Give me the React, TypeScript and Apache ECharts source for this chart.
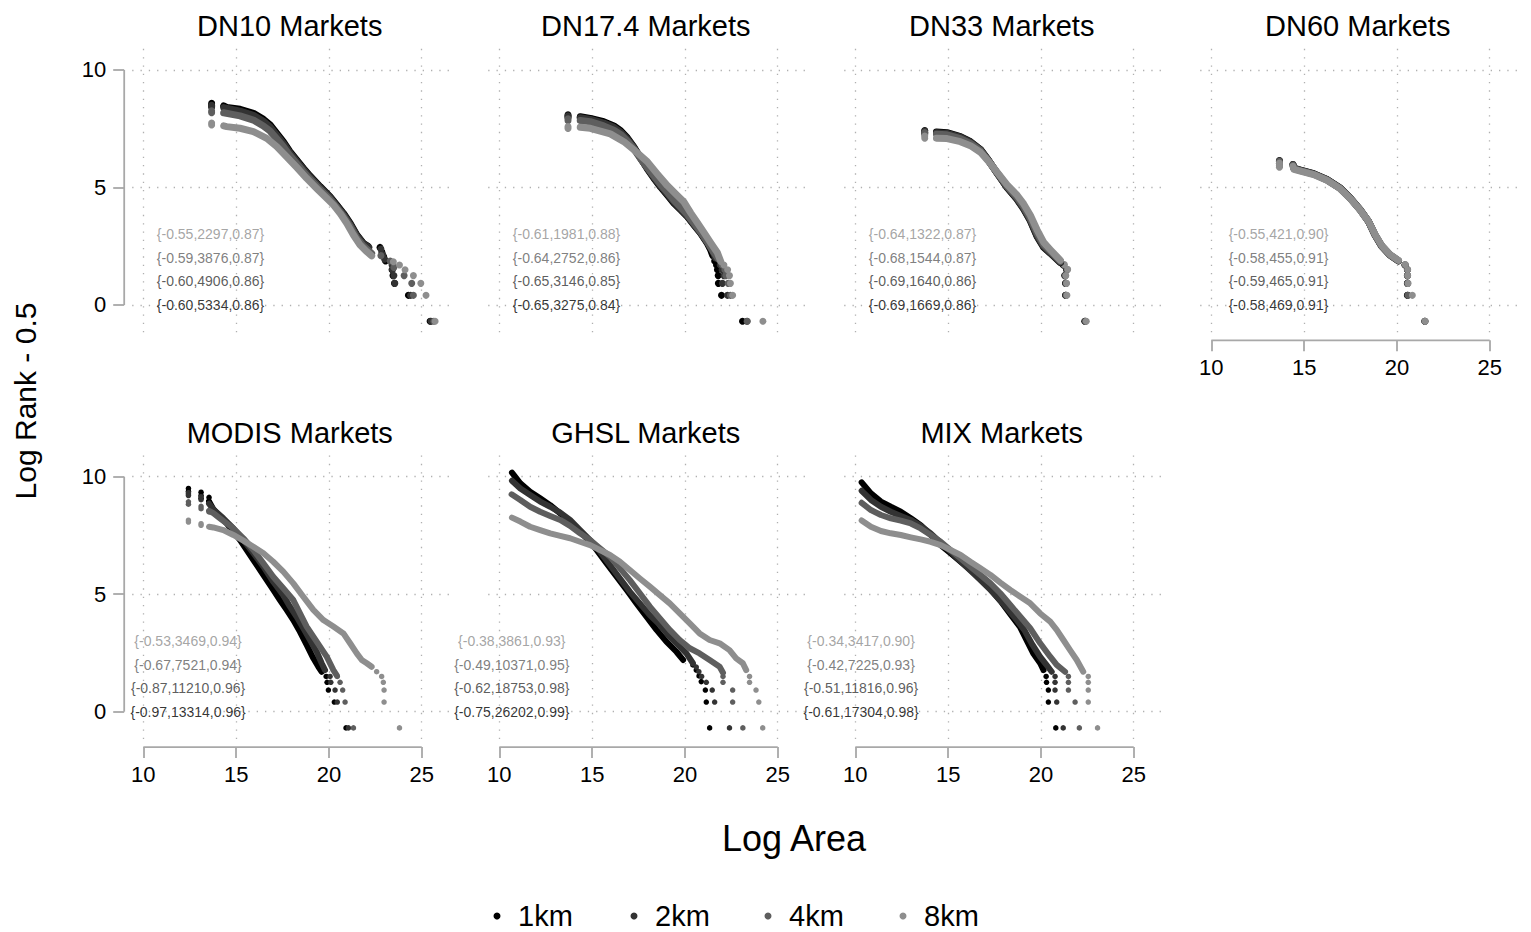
import React, { useEffect, useRef } from 'react';
import * as echarts from 'echarts';

const FONT = "'Liberation Sans', Arial, Helvetica, sans-serif";
const RESOLUTIONS = ['1km', '2km', '4km', '8km'];
const SERIES_COLORS = ['#000000', '#333333', '#5e5e5e', '#8e8e8e'];
const X_TICKS = [10, 15, 20, 25];
const Y_TICKS = [0, 5, 10];
const X_MIN = 9.4;
const X_MAX = 26.7;
const Y_MIN = -1.25;
const Y_MAX = 10.9;
const PANEL_TITLES = ['DN10 Markets', 'DN17.4 Markets', 'DN33 Markets', 'DN60 Markets', 'MODIS Markets', 'GHSL Markets', 'MIX Markets'];

// annotation text per panel: order 1km, 2km, 4km, 8km
const DN10_STATS = ['{-0.60,5334,0.86}', '{-0.60,4906,0.86}', '{-0.59,3876,0.87}', '{-0.55,2297,0.87}'];
const DN17_STATS = ['{-0.65,3275,0.84}', '{-0.65,3146,0.85}', '{-0.64,2752,0.86}', '{-0.61,1981,0.88}'];
const DN33_STATS = ['{-0.69,1669,0.86}', '{-0.69,1640,0.86}', '{-0.68,1544,0.87}', '{-0.64,1322,0.87}'];
const DN60_STATS = ['{-0.58,469,0.91}', '{-0.59,465,0.91}', '{-0.58,455,0.91}', '{-0.55,421,0.90}'];
const MODIS_STATS = ['{-0.97,13314,0.96}', '{-0.87,11210,0.96}', '{-0.67,7521,0.94}', '{-0.53,3469,0.94}'];
const GHSL_STATS = ['{-0.75,26202,0.99}', '{-0.62,18753,0.98}', '{-0.49,10371,0.95}', '{-0.38,3861,0.93}'];
const MIX_STATS = ['{-0.61,17304,0.98}', '{-0.51,11816,0.96}', '{-0.42,7225,0.93}', '{-0.34,3417,0.90}'];
const ANNOT_X = [13.62, 13.62, 13.62, 13.62, 12.41, 10.67, 10.31];
const ANNOT_Y = [0, 1, 2, 3];

// ---------- DN10 ----------
const DN10_1KM_LINE = [[14.33,8.47],[14.49,8.41],[15.21,8.33],[15.93,8.16],[16.47,7.90],[16.83,7.66],[17.19,7.30],[17.54,6.95],[17.90,6.52],[18.26,6.17],[18.62,5.82],[18.98,5.49],[19.52,5.04],[20.06,4.61],[20.42,4.26],[20.78,3.90],[21.14,3.48],[21.50,2.98],[21.86,2.62],[22.10,2.50]];
const DN10_1KM_DOTS = [[13.68,8.58],[13.68,8.50],[13.68,8.44],[22.75,2.45],[22.85,2.25],[22.95,2.05],[23.05,1.87],[23.40,1.50],[23.45,1.25],[23.53,0.92],[24.28,0.41],[25.45,-0.69]];
const DN10_2KM_LINE = [[14.33,8.40],[15.21,8.25],[15.93,8.07],[16.47,7.82],[16.83,7.58],[17.19,7.23],[17.54,6.88],[17.90,6.47],[18.26,6.12],[18.62,5.78],[18.98,5.45],[19.52,5.00],[20.06,4.58],[20.42,4.22],[20.78,3.86],[21.14,3.44],[21.50,2.95],[21.86,2.60],[22.15,2.45]];
const DN10_2KM_DOTS = [[13.68,8.50],[13.68,8.42],[22.80,2.38],[22.90,2.15],[23.00,1.95],[23.40,1.70],[23.42,1.50],[23.50,1.25],[23.55,0.92],[24.40,0.41],[25.50,-0.69]];
const DN10_4KM_LINE = [[14.33,8.18],[15.21,8.05],[15.93,7.87],[16.47,7.62],[16.83,7.40],[17.19,7.07],[17.54,6.74],[17.90,6.36],[18.26,6.02],[18.62,5.68],[18.98,5.36],[19.52,4.92],[20.06,4.50],[20.42,4.16],[20.78,3.78],[21.14,3.35],[21.50,2.85],[21.86,2.50],[22.30,2.20]];
const DN10_4KM_DOTS = [[13.68,8.26],[13.68,8.18],[22.80,2.10],[23.30,1.87],[23.50,1.60],[24.05,1.25],[24.46,0.92],[24.55,0.41],[25.65,-0.69]];
const DN10_8KM_LINE = [[14.33,7.62],[14.49,7.59],[15.21,7.52],[15.93,7.38],[16.65,7.09],[17.19,6.74],[17.72,6.31],[18.26,5.86],[18.80,5.39],[19.34,4.96],[19.88,4.54],[20.24,4.26],[20.60,3.90],[20.96,3.48],[21.32,2.98],[21.68,2.55],[22.04,2.27],[22.30,2.09]];
const DN10_8KM_DOTS = [[13.68,7.74],[13.68,7.66],[23.47,1.84],[23.80,1.70],[24.10,1.50],[24.55,1.25],[24.95,0.92],[25.23,0.41],[25.72,-0.69]];

// ---------- DN17.4 ----------
const DN17_1KM_LINE = [[14.36,8.01],[14.90,7.94],[15.62,7.80],[16.17,7.62],[16.53,7.42],[16.89,7.12],[17.25,6.72],[17.61,6.25],[17.97,5.80],[18.33,5.39],[18.69,5.02],[19.05,4.68],[19.41,4.33],[19.77,4.05],[20.13,3.76],[20.49,3.40],[20.85,3.05],[21.21,2.62],[21.39,2.34],[21.50,2.10]];
const DN17_1KM_DOTS = [[13.70,8.09],[13.70,8.01],[21.60,1.87],[21.70,1.70],[21.75,1.50],[21.79,1.25],[21.80,0.92],[21.97,0.41],[23.10,-0.69]];
const DN17_2KM_LINE = [[14.36,7.97],[14.90,7.90],[15.62,7.74],[16.17,7.56],[16.53,7.36],[16.89,7.07],[17.25,6.70],[17.61,6.26],[17.97,5.83],[18.33,5.42],[18.69,5.06],[19.05,4.72],[19.41,4.38],[19.77,4.08],[20.13,3.78],[20.49,3.42],[20.85,3.07],[21.21,2.66],[21.50,2.30],[21.65,2.00]];
const DN17_2KM_DOTS = [[13.70,8.05],[13.70,7.97],[21.90,1.70],[22.00,1.50],[22.10,1.25],[22.02,0.92],[22.29,0.41],[23.34,-0.69]];
const DN17_4KM_LINE = [[14.36,7.85],[14.90,7.80],[15.62,7.62],[16.17,7.44],[16.53,7.26],[16.89,6.99],[17.25,6.64],[17.61,6.22],[17.97,5.85],[18.33,5.48],[18.69,5.12],[19.05,4.80],[19.41,4.45],[19.77,4.15],[20.13,3.84],[20.49,3.47],[20.85,3.10],[21.21,2.68],[21.50,2.30],[21.80,1.95]];
const DN17_4KM_DOTS = [[13.70,7.92],[13.70,7.84],[22.00,1.70],[22.15,1.50],[22.20,1.25],[22.33,0.92],[22.45,0.41],[23.36,-0.69]];
const DN17_8KM_LINE = [[14.36,7.56],[14.90,7.52],[15.98,7.28],[16.71,6.95],[17.25,6.60],[17.97,6.10],[18.51,5.58],[19.05,5.08],[19.59,4.66],[19.95,4.38],[20.31,3.92],[20.67,3.50],[21.03,3.08],[21.39,2.64],[21.75,2.22],[21.93,1.85]];
const DN17_8KM_DOTS = [[13.70,7.59],[13.70,7.51],[22.10,1.70],[22.30,1.50],[22.40,1.25],[22.45,0.92],[22.57,0.41],[24.20,-0.69]];

// ---------- DN33 ----------
const DN33_1KM_LINE = [[14.37,7.36],[14.94,7.33],[15.66,7.17],[16.20,6.95],[16.74,6.62],[17.19,6.14],[17.63,5.62],[18.17,5.00],[18.71,4.50],[19.07,4.08],[19.43,3.58],[19.79,2.92],[20.15,2.45],[20.51,2.20],[21.05,1.80]];
const DN33_1KM_DOTS = [[13.74,7.42],[13.74,7.33],[21.20,1.70],[21.38,1.50],[21.28,1.25],[21.32,0.92],[21.32,0.41],[22.36,-0.69]];
const DN33_2KM_LINE = [[14.37,7.33],[14.94,7.30],[15.66,7.14],[16.20,6.93],[16.74,6.60],[17.19,6.13],[17.63,5.62],[18.17,5.02],[18.71,4.52],[19.07,4.10],[19.43,3.60],[19.79,2.95],[20.15,2.48],[20.51,2.22],[21.05,1.82]];
const DN33_2KM_DOTS = [[13.74,7.40],[13.74,7.31],[21.22,1.70],[21.40,1.50],[21.30,1.25],[21.34,0.92],[21.34,0.41],[22.38,-0.69]];
const DN33_4KM_LINE = [[14.37,7.27],[14.94,7.24],[15.66,7.08],[16.20,6.88],[16.74,6.57],[17.19,6.12],[17.63,5.64],[18.17,5.06],[18.71,4.58],[19.07,4.18],[19.43,3.68],[19.79,3.05],[20.15,2.55],[20.51,2.28],[21.05,1.86]];
const DN33_4KM_DOTS = [[13.74,7.34],[13.74,7.25],[21.24,1.70],[21.42,1.50],[21.32,1.25],[21.36,0.92],[21.36,0.41],[22.40,-0.69]];
const DN33_8KM_LINE = [[14.37,7.10],[14.94,7.08],[15.66,6.95],[16.20,6.78],[16.74,6.50],[17.19,6.10],[17.63,5.66],[18.17,5.12],[18.71,4.68],[19.07,4.30],[19.43,3.82],[19.79,3.20],[20.15,2.66],[20.51,2.35],[21.05,1.90]];
const DN33_8KM_DOTS = [[13.74,7.19],[13.74,7.10],[21.26,1.72],[21.44,1.52],[21.34,1.25],[21.38,0.92],[21.40,0.41],[22.44,-0.69]];

// ---------- DN60 ----------
const DN60_1KM_LINE = [[14.40,5.98],[14.45,5.82],[14.80,5.74],[15.51,5.59],[16.23,5.34],[16.94,4.98],[17.48,4.55],[18.02,4.05],[18.47,3.55],[18.82,2.98],[19.18,2.50],[19.63,2.12],[20.08,1.88]];
const DN60_1KM_DOTS = [[13.67,6.15],[13.67,6.04],[13.67,5.94],[20.43,1.70],[20.56,1.50],[20.56,1.25],[20.56,0.92],[20.56,0.41],[21.50,-0.69]];
const DN60_2KM_LINE = [[14.40,5.97],[14.45,5.81],[14.80,5.73],[15.51,5.58],[16.23,5.33],[16.94,4.97],[17.48,4.55],[18.02,4.05],[18.47,3.55],[18.82,2.98],[19.18,2.50],[19.63,2.12],[20.08,1.88]];
const DN60_2KM_DOTS = [[13.67,6.14],[13.67,6.03],[13.67,5.93],[20.44,1.70],[20.57,1.50],[20.57,1.25],[20.57,0.92],[20.58,0.41],[21.51,-0.69]];
const DN60_4KM_LINE = [[14.40,5.95],[14.45,5.80],[14.80,5.72],[15.51,5.57],[16.23,5.32],[16.94,4.96],[17.48,4.54],[18.02,4.04],[18.47,3.55],[18.82,2.98],[19.18,2.51],[19.63,2.13],[20.08,1.89]];
const DN60_4KM_DOTS = [[13.67,6.12],[13.67,6.01],[13.67,5.91],[20.44,1.71],[20.57,1.50],[20.57,1.25],[20.58,0.92],[20.60,0.41],[21.51,-0.69]];
const DN60_8KM_LINE = [[14.40,5.90],[14.45,5.77],[14.80,5.70],[15.51,5.55],[16.23,5.31],[16.94,4.95],[17.48,4.53],[18.02,4.04],[18.47,3.56],[18.82,3.00],[19.18,2.53],[19.63,2.14],[20.08,1.90]];
const DN60_8KM_DOTS = [[13.67,6.04],[13.67,5.94],[13.67,5.86],[20.45,1.72],[20.58,1.50],[20.58,1.25],[20.60,0.92],[20.83,0.41],[21.52,-0.69]];

// ---------- MODIS ----------
const MODIS_1KM_LINE = [[13.54,8.95],[13.77,8.62],[14.13,8.30],[14.49,8.01],[14.85,7.66],[15.21,7.30],[15.57,6.88],[15.93,6.45],[16.29,6.03],[16.65,5.60],[17.00,5.18],[17.36,4.75],[17.72,4.33],[18.08,3.90],[18.44,3.40],[18.80,2.84],[19.16,2.27],[19.43,1.91],[19.61,1.70]];
const MODIS_1KM_DOTS = [[12.43,9.50],[12.43,9.38],[12.43,9.26],[13.11,9.34],[13.11,9.20],[13.11,9.08],[13.54,9.12],[19.85,1.50],[19.90,1.25],[19.97,0.92],[20.29,0.41],[20.92,-0.69]];
const MODIS_2KM_LINE = [[13.54,8.85],[13.77,8.61],[14.31,8.23],[14.85,7.80],[15.39,7.30],[15.93,6.74],[16.47,6.17],[17.00,5.53],[17.54,4.96],[17.90,4.47],[18.26,4.04],[18.62,3.55],[18.98,3.05],[19.34,2.55],[19.61,2.06],[19.79,1.77]];
const MODIS_2KM_DOTS = [[12.43,9.32],[12.43,9.20],[13.11,9.15],[13.11,9.02],[13.54,8.95],[20.06,1.50],[20.10,1.25],[20.33,0.92],[20.45,0.41],[21.05,-0.69]];
const MODIS_4KM_LINE = [[13.54,8.55],[13.77,8.45],[14.13,8.23],[14.85,7.80],[15.39,7.38],[15.93,6.88],[16.47,6.31],[17.00,5.74],[17.54,5.25],[18.08,4.75],[18.44,4.18],[18.80,3.62],[19.16,3.19],[19.52,2.77],[19.88,2.34],[20.24,1.77],[20.42,1.55]];
const MODIS_4KM_DOTS = [[12.43,8.93],[12.43,8.83],[13.11,8.74],[13.11,8.64],[13.54,8.50],[20.45,1.50],[20.60,1.25],[20.74,0.92],[20.87,0.41],[21.32,-0.69]];
const MODIS_8KM_LINE = [[13.54,7.87],[13.77,7.84],[14.31,7.73],[14.85,7.52],[15.39,7.28],[15.93,7.02],[16.47,6.74],[17.00,6.38],[17.54,5.96],[18.08,5.46],[18.62,4.89],[19.16,4.33],[19.70,3.90],[20.24,3.62],[20.78,3.33],[21.14,2.91],[21.50,2.48],[21.77,2.20],[22.04,2.06],[22.30,1.91]];
const MODIS_8KM_DOTS = [[12.43,8.15],[12.43,8.07],[13.11,8.00],[13.11,7.93],[22.57,1.70],[22.84,1.50],[22.93,1.25],[22.97,0.92],[22.97,0.41],[23.80,-0.69]];

// ---------- GHSL ----------
const GHSL_1KM_LINE = [[10.68,10.17],[11.13,9.72],[11.66,9.36],[12.20,9.08],[12.74,8.79],[13.28,8.44],[13.81,8.09],[14.35,7.66],[14.89,7.23],[15.24,6.88],[15.78,6.31],[16.32,5.74],[16.86,5.18],[17.39,4.61],[17.93,4.04],[18.47,3.48],[19.00,2.98],[19.54,2.55],[19.90,2.20]];
const GHSL_1KM_DOTS = [[20.43,1.99],[20.61,1.77],[20.76,1.52],[20.88,1.28],[21.10,0.92],[21.15,0.41],[21.33,-0.69]];
const GHSL_2KM_LINE = [[10.68,9.83],[11.13,9.50],[11.66,9.22],[12.20,8.94],[12.74,8.72],[13.28,8.47],[13.81,8.16],[14.35,7.73],[14.89,7.30],[15.42,6.81],[15.96,6.24],[16.50,5.67],[17.03,5.11],[17.57,4.61],[18.11,4.11],[18.65,3.69],[19.18,3.19],[19.72,2.77],[20.08,2.48],[20.43,2.06]];
const GHSL_2KM_DOTS = [[20.61,1.90],[20.75,1.70],[20.90,1.50],[21.15,1.25],[21.47,0.92],[21.60,0.41],[22.40,-0.69]];
const GHSL_4KM_LINE = [[10.66,9.25],[11.13,9.01],[11.66,8.72],[12.20,8.51],[12.74,8.33],[13.28,8.16],[13.81,7.91],[14.35,7.59],[14.89,7.30],[15.42,6.95],[15.96,6.60],[16.50,6.10],[17.03,5.60],[17.57,5.04],[18.11,4.47],[18.65,3.97],[19.18,3.48],[19.72,3.05],[20.26,2.70],[20.79,2.48],[21.33,2.20],[21.87,1.91],[22.05,1.66]];
const GHSL_4KM_DOTS = [[22.05,1.50],[22.05,1.25],[22.57,0.92],[22.57,0.41],[23.12,-0.69]];
const GHSL_8KM_LINE = [[10.68,8.26],[11.13,8.09],[11.66,7.87],[12.20,7.73],[12.74,7.59],[13.28,7.48],[13.81,7.38],[14.35,7.23],[14.89,7.09],[15.42,6.88],[15.96,6.67],[16.50,6.38],[17.03,6.03],[17.57,5.67],[18.11,5.32],[18.65,4.96],[19.18,4.61],[19.72,4.18],[20.26,3.76],[20.79,3.33],[21.33,3.05],[21.87,2.91],[22.40,2.62],[22.76,2.27],[23.12,2.06],[23.30,1.77]];
const GHSL_8KM_DOTS = [[23.48,1.50],[23.48,1.25],[23.83,0.92],[23.98,0.41],[24.19,-0.69]];

// ---------- MIX ----------
const MIX_1KM_LINE = [[10.34,9.76],[10.84,9.29],[11.38,8.94],[11.91,8.72],[12.45,8.51],[12.99,8.23],[13.52,7.94],[14.06,7.52],[14.60,7.09],[15.13,6.74],[15.67,6.38],[16.20,6.03],[16.74,5.67],[17.28,5.22],[17.81,4.72],[18.35,4.15],[18.89,3.58],[19.24,3.02],[19.60,2.46],[19.96,2.06],[20.14,1.77]];
const MIX_1KM_DOTS = [[20.28,1.50],[20.30,1.25],[20.40,0.92],[20.40,0.41],[20.80,-0.69]];
const MIX_2KM_LINE = [[10.34,9.40],[10.84,9.01],[11.38,8.72],[11.91,8.51],[12.45,8.33],[12.99,8.16],[13.52,7.91],[14.06,7.59],[14.60,7.19],[15.13,6.81],[15.67,6.40],[16.20,6.00],[16.74,5.60],[17.28,5.18],[17.95,4.61],[18.55,4.04],[19.10,3.48],[19.55,2.84],[19.95,2.34],[20.30,1.99],[20.58,1.70]];
const MIX_2KM_DOTS = [[20.76,1.50],[20.76,1.25],[20.76,0.92],[20.85,0.41],[21.20,-0.69]];
const MIX_4KM_LINE = [[10.34,8.89],[10.84,8.58],[11.38,8.37],[11.91,8.23],[12.45,8.13],[12.99,8.01],[13.52,7.80],[14.06,7.52],[14.60,7.23],[15.13,6.88],[15.67,6.52],[16.20,6.17],[16.74,5.82],[17.28,5.46],[17.81,5.04],[18.35,4.54],[18.89,4.04],[19.42,3.55],[19.96,2.91],[20.50,2.34],[20.85,1.99],[21.30,1.70]];
const MIX_4KM_DOTS = [[21.48,1.50],[21.48,1.25],[21.48,0.92],[21.84,0.41],[22.07,-0.69]];
const MIX_8KM_LINE = [[10.34,8.14],[10.84,7.87],[11.38,7.69],[11.91,7.59],[12.45,7.52],[12.99,7.42],[13.52,7.33],[14.06,7.23],[14.60,7.09],[15.13,6.88],[15.67,6.67],[16.20,6.38],[16.74,6.10],[17.28,5.82],[17.81,5.49],[18.35,5.18],[18.89,4.89],[19.42,4.61],[19.96,4.18],[20.50,3.83],[20.85,3.48],[21.21,3.05],[21.57,2.62],[21.93,2.20],[22.28,1.70]];
const MIX_8KM_DOTS = [[22.55,1.50],[22.55,1.25],[22.55,0.92],[22.55,0.41],[23.05,-0.69]];

const PANELS = [
  { title: PANEL_TITLES[0], stats: DN10_STATS, lines: [DN10_1KM_LINE, DN10_2KM_LINE, DN10_4KM_LINE, DN10_8KM_LINE], dots: [DN10_1KM_DOTS, DN10_2KM_DOTS, DN10_4KM_DOTS, DN10_8KM_DOTS] },
  { title: PANEL_TITLES[1], stats: DN17_STATS, lines: [DN17_1KM_LINE, DN17_2KM_LINE, DN17_4KM_LINE, DN17_8KM_LINE], dots: [DN17_1KM_DOTS, DN17_2KM_DOTS, DN17_4KM_DOTS, DN17_8KM_DOTS] },
  { title: PANEL_TITLES[2], stats: DN33_STATS, lines: [DN33_1KM_LINE, DN33_2KM_LINE, DN33_4KM_LINE, DN33_8KM_LINE], dots: [DN33_1KM_DOTS, DN33_2KM_DOTS, DN33_4KM_DOTS, DN33_8KM_DOTS] },
  { title: PANEL_TITLES[3], stats: DN60_STATS, lines: [DN60_1KM_LINE, DN60_2KM_LINE, DN60_4KM_LINE, DN60_8KM_LINE], dots: [DN60_1KM_DOTS, DN60_2KM_DOTS, DN60_4KM_DOTS, DN60_8KM_DOTS] },
  { title: PANEL_TITLES[4], stats: MODIS_STATS, lines: [MODIS_1KM_LINE, MODIS_2KM_LINE, MODIS_4KM_LINE, MODIS_8KM_LINE], dots: [MODIS_1KM_DOTS, MODIS_2KM_DOTS, MODIS_4KM_DOTS, MODIS_8KM_DOTS] },
  { title: PANEL_TITLES[5], stats: GHSL_STATS, lines: [GHSL_1KM_LINE, GHSL_2KM_LINE, GHSL_4KM_LINE, GHSL_8KM_LINE], dots: [GHSL_1KM_DOTS, GHSL_2KM_DOTS, GHSL_4KM_DOTS, GHSL_8KM_DOTS] },
  { title: PANEL_TITLES[6], stats: MIX_STATS, lines: [MIX_1KM_LINE, MIX_2KM_LINE, MIX_4KM_LINE, MIX_8KM_LINE], dots: [MIX_1KM_DOTS, MIX_2KM_DOTS, MIX_4KM_DOTS, MIX_8KM_DOTS] },
];

// layout
const GRID_W = 321.1;
const GRID_H = 285.5;
const COL_LEFT = [132.2, 488.2, 844.2, 1200.2];
const ROW_TOP = [48.85, 455.55];
const Y_AXIS_OFFSET = 8;
const X_AXIS_OFFSET = 6;
const AXIS_COLOR = '#a8a8a8';
const GRID_COLOR = '#b0b0b0';
const LEGEND_LEFT = [493.5, 630.5, 764.5, 899.5];

function panelPos(p: number) {
  const row = p < 4 ? 0 : 1;
  const col = p < 4 ? p : p - 4;
  return { left: COL_LEFT[col], top: ROW_TOP[row], row, col };
}

export default function App() {
  const ref = useRef<HTMLDivElement>(null);
  useEffect(() => {
    if (!ref.current) return;
    const chart = echarts.init(ref.current, undefined, { renderer: 'svg' });

    const grids: any[] = [];
    const xAxes: any[] = [];
    const yAxes: any[] = [];
    const series: any[] = [];

    PANELS.forEach((pn, p) => {
      const pos = panelPos(p);
      const showX = p >= 3;
      const showY = pos.col === 0;
      grids.push({ left: pos.left, top: pos.top, width: GRID_W, height: GRID_H, containLabel: false });
      xAxes.push({
        type: 'value', gridIndex: p, min: X_MIN, max: X_MAX, offset: X_AXIS_OFFSET, position: 'bottom',
        axisLine: { show: false, onZero: false },
        axisTick: { show: showX, inside: false, customValues: X_TICKS, length: 11, lineStyle: { color: AXIS_COLOR, width: 1.8 } },
        axisLabel: { show: showX, customValues: X_TICKS, margin: 16, fontSize: 22, color: '#000', fontFamily: FONT },
        splitLine: { show: true, lineStyle: { color: GRID_COLOR, width: 1.3, type: [1.3, 7] } },
      });
      yAxes.push({
        type: 'value', gridIndex: p, min: Y_MIN, max: Y_MAX, offset: Y_AXIS_OFFSET, position: 'left',
        axisLine: { show: false, onZero: false },
        axisTick: { show: showY, inside: false, customValues: Y_TICKS, length: 11, lineStyle: { color: AXIS_COLOR, width: 1.8 } },
        axisLabel: { show: showY, customValues: Y_TICKS, margin: 18, fontSize: 22, color: '#000', fontFamily: FONT },
        splitLine: { show: true, lineStyle: { color: GRID_COLOR, width: 1.3, type: [1.3, 7] } },
      });
      const ms = pos.row === 0 ? 7 : 6;
      const ds = pos.row === 0 ? 7 : 5.5;
      for (let k = 0; k < 4; k++) {
        series.push({
          type: 'line', name: RESOLUTIONS[k], xAxisIndex: p, yAxisIndex: p,
          data: pn.lines[k], symbol: 'none', silent: true, smooth: false,
          lineStyle: { color: SERIES_COLORS[k], width: ms, cap: 'round', join: 'round' },
          itemStyle: { color: SERIES_COLORS[k] },
        });
        series.push({
          type: 'scatter', name: RESOLUTIONS[k], xAxisIndex: p, yAxisIndex: p,
          data: pn.dots[k], symbol: 'circle', symbolSize: ds, silent: true,
          itemStyle: { color: SERIES_COLORS[k], opacity: 1 },
        });
      }
      series.push({
        type: 'scatter', name: 'annot' + p, xAxisIndex: p, yAxisIndex: p, silent: true,
        symbolSize: 1, itemStyle: { color: 'rgba(0,0,0,0)' },
        data: ANNOT_Y.map((y, k) => ({ value: [ANNOT_X[p], y], label: { color: SERIES_COLORS[k] } })),
        label: { show: true, position: 'inside', fontSize: 14, fontFamily: FONT, formatter: (q: any) => pn.stats[q.dataIndex] },
        z: 5,
      });
    });

    const legends = RESOLUTIONS.map((n, k) => ({
      data: [{ name: n, icon: 'circle', itemStyle: { color: SERIES_COLORS[k] } }],
      left: LEGEND_LEFT[k], top: 901, padding: 0,
      itemWidth: 32, itemHeight: 7,
      selectedMode: false,
      textStyle: { fontSize: 29, color: '#000', fontFamily: FONT, lineHeight: 30 },
    }));

    chart.setOption({
      animation: false,
      backgroundColor: '#ffffff',
      grid: grids,
      xAxis: xAxes,
      yAxis: yAxes,
      series,
      legend: legends,
    });

    const elements: any[] = [];
    PANELS.forEach((pn, p) => {
      const pos = panelPos(p);
      elements.push({
        type: 'text', x: pos.left + GRID_W / 2 - 3, y: pos.top - 23,
        style: { text: pn.title, font: `29px ${FONT}`, fill: '#000', textAlign: 'center', textVerticalAlign: 'middle' },
        silent: true,
      });
      const p0 = chart.convertToPixel({ gridIndex: p } as any, [10, 0]) as number[];
      const p1 = chart.convertToPixel({ gridIndex: p } as any, [25, 10]) as number[];
      if (pos.col === 0) {
        const ax = pos.left - Y_AXIS_OFFSET;
        elements.push({ type: 'line', shape: { x1: ax, y1: p1[1], x2: ax, y2: p0[1] }, style: { stroke: AXIS_COLOR, lineWidth: 1.8 }, silent: true });
      }
      if (p >= 3) {
        const ay = pos.top + GRID_H + X_AXIS_OFFSET;
        elements.push({ type: 'line', shape: { x1: p0[0], y1: ay, x2: p1[0], y2: ay }, style: { stroke: AXIS_COLOR, lineWidth: 1.8 }, silent: true });
      }
    });
    elements.push({
      type: 'text', x: 794, y: 838,
      style: { text: 'Log Area', font: `36px ${FONT}`, fill: '#000', textAlign: 'center', textVerticalAlign: 'middle' },
      silent: true,
    });
    elements.push({
      type: 'text', x: 25, y: 401, rotation: Math.PI / 2,
      style: { text: 'Log Rank - 0.5', font: `30px ${FONT}`, fill: '#000', textAlign: 'center', textVerticalAlign: 'middle' },
      silent: true,
    });
    chart.setOption({ graphic: { elements } });

    return () => chart.dispose();
  }, []);
  return <div ref={ref} style={{ position: 'fixed', left: 0, top: 0, width: 1531, height: 932, background: '#fff' }} />;
}
